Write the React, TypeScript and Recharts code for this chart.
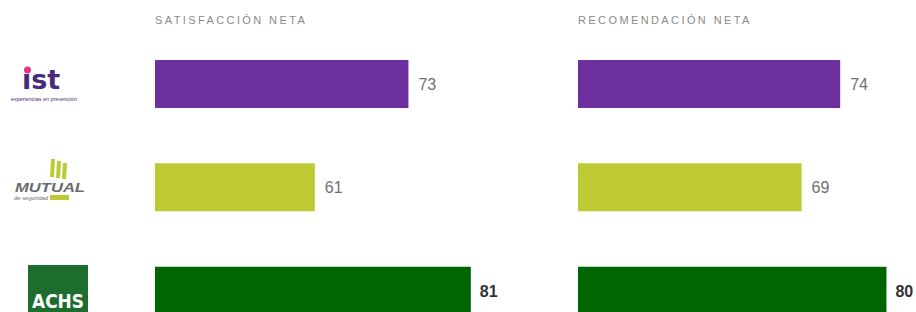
import { BarChart, Bar, XAxis, YAxis, Cell, LabelList } from 'recharts';

const companies = ['IST', 'Mutual de Seguridad', 'ACHS'];
const satisfaccion = [73, 61, 81];
const recomendacion = [74, 69, 80];
const barColors = ['#6E2F9E', '#BECA32', '#016502'];
const titles = ['SATISFACCIÓN NETA', 'RECOMENDACIÓN NETA'];

const FONT = '"Liberation Sans", Arial, sans-serif';

const satData = companies.map((name, i) => ({ name, value: satisfaccion[i] }));
const recData = companies.map((name, i) => ({ name, value: recomendacion[i] }));

// logos drawn next to each category
function LogoTick(props: any) {
  const { index } = props;
  if (index === 0) {
    return (
      <g>
        <text x={22} y={89} fontFamily='"DejaVu Sans", sans-serif' fontWeight={700} fontSize={27} fill="#4A2A7C">ıst</text>
        <circle cx={27.5} cy={70} r={3.5} fill="#E0338A" />
        <text x={11} y={101} fontFamily={FONT} fontSize={4.5} fill="#4A2A7C" textLength={66} lengthAdjust="spacingAndGlyphs">
          experiencias en prevención
        </text>
      </g>
    );
  }
  if (index === 1) {
    return (
      <g>
        <polygon points="51,159 55,159 54,177 50,177" fill="#BECA32" />
        <polygon points="57,161 61,161 60,178 56,178" fill="#BECA32" />
        <polygon points="63,163 67,163 66,179 62,179" fill="#BECA32" />
        <text x={15} y={192} fontFamily={FONT} fontStyle="italic" fontWeight={700} fontSize={12} fill="#6B6B6B" textLength={70} lengthAdjust="spacingAndGlyphs">
          MUTUAL
        </text>
        <text x={14} y={200} fontFamily={FONT} fontStyle="italic" fontSize={5} fill="#6B6B6B" textLength={34} lengthAdjust="spacingAndGlyphs">
          de seguridad
        </text>
        <rect x={50} y={195} width={19} height={5} fill="#BECA32" />
      </g>
    );
  }
  return (
    <g>
      <rect x={28} y={265} width={60} height={60} fill="#1D6E2E" />
      <text x={32} y={308} fontFamily='"DejaVu Sans Condensed", "DejaVu Sans", sans-serif' fontWeight={700} fontSize={20} fill="#FFFFFF" textLength={52} lengthAdjust="spacingAndGlyphs">
        ACHS
      </text>
    </g>
  );
}

function ValueLabel(props: any) {
  const { x, y, width, height, value, index } = props;
  const strong = index === 2;
  return (
    <text
      x={x + width + (strong ? 9 : 10)}
      y={y + height / 2 + 6}
      fontFamily={FONT}
      fontSize={16}
      fontWeight={strong ? 700 : 400}
      fill={strong ? '#333' : '#707070'}
    >
      {value}
    </text>
  );
}

function Panel({ data, withLogos, domain }: { data: { name: string; value: number }[]; withLogos: boolean; domain: [number, number] }) {
  const yWidth = withLogos ? 155 : 0;
  return (
    <BarChart
      layout="vertical"
      width={yWidth + 347}
      height={350}
      data={data}
      margin={{ top: 32, right: 0, bottom: 8, left: 0 }}
      barCategoryGap={0}
    >
      <XAxis type="number" domain={domain} allowDataOverflow hide />
      <YAxis
        type="category"
        dataKey="name"
        width={yWidth}
        hide={!withLogos}
        axisLine={false}
        tickLine={false}
        tick={<LogoTick />}
      />
      <Bar dataKey="value" barSize={48} isAnimationActive={false}>
        {data.map((d, i) => (
          <Cell key={d.name} fill={barColors[i]} />
        ))}
        <LabelList dataKey="value" content={<ValueLabel />} />
      </Bar>
    </BarChart>
  );
}

export default function App() {
  const titleStyle = {
    position: 'absolute' as const,
    top: 14,
    fontFamily: FONT,
    fontSize: 11,
    letterSpacing: 2.4,
    color: '#8A8A8A',
    whiteSpace: 'nowrap' as const,
  };
  return (
    <div style={{ position: 'absolute', left: 0, top: 0, width: 916, height: 312, overflow: 'hidden', background: '#fff' }}>
      <div style={{ ...titleStyle, left: 155 }}>{titles[0]}</div>
      <div style={{ ...titleStyle, left: 578 }}>{titles[1]}</div>
      <div style={{ position: 'absolute', left: 0, top: 0 }}>
        <Panel data={satData} withLogos domain={[40.5, 85]} />
      </div>
      <div style={{ position: 'absolute', left: 578, top: 0 }}>
        <Panel data={recData} withLogos={false} domain={[40, 85]} />
      </div>
    </div>
  );
}
